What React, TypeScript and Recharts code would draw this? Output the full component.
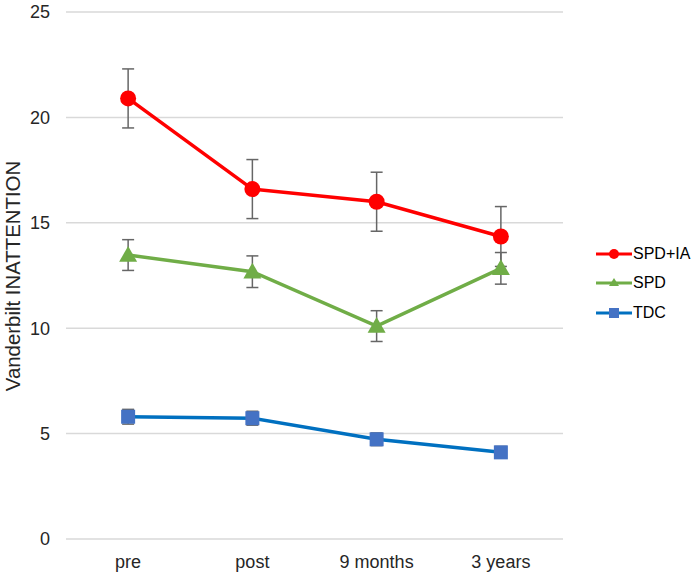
import { LineChart, Line, XAxis, YAxis, CartesianGrid, ErrorBar } from 'recharts';

const categories = ['pre', 'post', '9 months', '3 years'];
const spdIa = [20.9, 16.6, 16.0, 14.35];
const spdIaErr = [1.4, 1.4, 1.4, 1.42];
const spd = [13.47, 12.68, 10.1, 12.84];
const spdErr = [0.73, 0.75, 0.73, 0.75];
const tdc = [5.8, 5.73, 4.73, 4.11];
const tdcErr = [0.35, 0.33, 0.3, 0.28];
const yTicks = [0, 5, 10, 15, 20, 25];

const RED = '#ff0000';
const GREEN = '#70ad47';
const BLUE_LINE = '#0070c0';
const BLUE_MARK = '#4472c4';
const ERR = '#666666';
const FONT = 'Liberation Sans, Arial, sans-serif';

const data = categories.map((c, i) => ({
    cat: c,
    spdIa: spdIa[i],
    spdIaErr: spdIaErr[i],
    spd: spd[i],
    spdErr: spdErr[i],
    tdc: tdc[i],
    tdcErr: tdcErr[i],
}));

const CircleDot = (props: any) => {
    const { cx, cy, index } = props;
    return <circle key={'c' + index} cx={cx} cy={cy} r={8} fill={RED} />;
};

const TriangleDot = (props: any) => {
    const { cx, cy, index } = props;
    const s = 9;
    return (
        <path key={'t' + index} d={`M${cx},${cy - s}L${cx + s},${cy + s * 0.75}L${cx - s},${cy + s * 0.75}Z`} fill={GREEN} />
    );
};

const SquareDot = (props: any) => {
    const { cx, cy, index } = props;
    return <rect key={'s' + index} x={cx - 7} y={cy - 7} width={14} height={14} fill={BLUE_MARK} />;
};

const YLabel = () => (
    <text
        x={13}
        y={276}
        transform="rotate(-90 13 276)"
        textAnchor="middle"
        dominantBaseline="central"
        fill="#262626"
        fontSize={20.4}
        fontFamily={FONT}
    >
        Vanderbilt INATTENTION
    </text>
);

const LEGEND_ITEMS = [
    { label: 'SPD+IA', color: RED, shape: 'circle' },
    { label: 'SPD', color: GREEN, shape: 'triangle' },
    { label: 'TDC', color: BLUE_LINE, shape: 'square' },
];

function ChartLegend() {
    return (
        <div style={{ position: 'absolute', left: 596, top: 239, fontFamily: FONT, fontSize: 16, color: '#000' }}>
            {LEGEND_ITEMS.map(it => (
                <div key={it.label} style={{ display: 'flex', alignItems: 'center', height: 29.5 }}>
                    <svg width={36} height={16} style={{ marginRight: 1 }}>
                        <line x1={0} y1={8} x2={36} y2={8} stroke={it.color} strokeWidth={3} />
                        {it.shape === 'circle' && <circle cx={18} cy={8} r={5} fill={it.color} />}
                        {it.shape === 'triangle' && <path d="M18,3L23,11L13,11Z" fill={it.color} />}
                        {it.shape === 'square' && <rect x={13} y={3} width={10} height={10} fill={BLUE_MARK} />}
                    </svg>
                    <span>{it.label}</span>
                </div>
            ))}
        </div>
    );
}

export default function App() {
    return (
        <div style={{ position: 'relative', width: 700, height: 577, background: '#fff' }}>
            <style>{'body{margin:0}'}</style>
            <LineChart width={700} height={577} data={data} margin={{ top: 12, right: 137, bottom: 0, left: 10 }}>
                <CartesianGrid vertical={false} stroke="#d9d9d9" strokeWidth={1.5} />
                <XAxis
                    dataKey="cat"
                    scale="band"
                    axisLine={false}
                    tickLine={false}
                    height={38}
                    tickMargin={10}
                    tick={{ fill: '#262626', fontSize: 18, fontFamily: FONT }}
                />
                <YAxis
                    domain={[0, 25]}
                    ticks={yTicks}
                    axisLine={false}
                    tickLine={false}
                    width={56}
                    tickMargin={10}
                    tick={{ fill: '#262626', fontSize: 18, fontFamily: FONT }}
                    label={<YLabel />}
                />
                <Line dataKey="spdIa" name="SPD+IA" stroke={RED} strokeWidth={3.5} dot={<CircleDot />} activeDot={false} isAnimationActive={false}>
                    <ErrorBar dataKey="spdIaErr" width={6} stroke={ERR} strokeWidth={1.5} />
                </Line>
                <Line dataKey="spd" name="SPD" stroke={GREEN} strokeWidth={3.5} dot={<TriangleDot />} activeDot={false} isAnimationActive={false}>
                    <ErrorBar dataKey="spdErr" width={6} stroke={ERR} strokeWidth={1.5} />
                </Line>
                <Line dataKey="tdc" name="TDC" stroke={BLUE_LINE} strokeWidth={3.5} dot={<SquareDot />} activeDot={false} isAnimationActive={false}>
                    <ErrorBar dataKey="tdcErr" width={6} stroke={ERR} strokeWidth={1.5} />
                </Line>
            </LineChart>
            <ChartLegend />
        </div>
    );
}
